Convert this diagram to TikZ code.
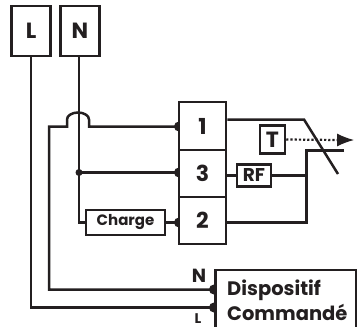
\documentclass[tikz,border=0pt]{standalone}
\usepackage{fontspec}
\setmainfont{Poppins}
\usetikzlibrary{arrows.meta}
\definecolor{ink}{HTML}{231F20}
\tikzset{
  wire/.style={draw=ink,line width=2.5pt},
  boxa/.style={draw=ink,line width=2.5pt,fill=white,inner sep=0pt,font=\bfseries\fontsize{22}{22}\selectfont,text=ink},
  lbl/.style={inner sep=0pt,text=ink,font=\bfseries\fontsize{19}{19}\selectfont},
  dotp/.style={circle,fill=ink,inner sep=0pt,minimum size=10pt}
}
\begin{document}
\begin{tikzpicture}[x=1pt,y=-1pt]
\useasboundingbox (0,0) rectangle (357,327);
\clip (0,0) rectangle (357,327);
\coordinate (d1) at (179,126.5);
\coordinate (d3) at (179,172.5);
\coordinate (d2) at (179,222.5);
\coordinate (dn) at (214,289.5);
\coordinate (dl) at (214,307.5);
\coordinate (jn) at (79,172.5);
\coordinate (sw) at (306.5,150.5);
\coordinate (swe) at (344,150.5);
\coordinate (rfj) at (306.5,175.5);
\coordinate (c1) at (304,119.5);
\coordinate (c2) at (338,174);
\coordinate (tipS) at (285,140);
\coordinate (tipE) at (354,140);
\node[dotp] at (d1) {};
\node[dotp] at (d3) {};
\node[dotp] at (d2) {};
\node[dotp] at (dn) {};
\node[dotp] at (dl) {};
\node[dotp,minimum size=7pt] at (jn) {};
% nodes
\node[boxa,minimum width=39pt,minimum height=50pt] (L) at (31,31) {L};
\node[boxa,minimum width=39pt,minimum height=50pt] (N) at (80,31) {N};
\node[boxa,minimum width=47pt,minimum height=48pt] (b1) at (202.5,126) {1};
\node[boxa,minimum width=47pt,minimum height=47pt] (b3) at (202.5,173.5) {3};
\node[boxa,minimum width=47pt,minimum height=47pt] (b2) at (202.5,220.5) {2};
\node[boxa,minimum width=25pt,minimum height=28pt] (T) at (272.5,139.5) {T};
\node[boxa,minimum width=34pt,minimum height=22pt,font=\bfseries\fontsize{18.5}{18.5}\selectfont] (RF) at (254,175.5) {RF};
\node[boxa,minimum width=79pt,minimum height=25pt,font=\bfseries\fontsize{15}{15}\selectfont] (Ch) at (125.5,222.5) {Charge};
\node[draw=ink,line width=2.5pt,fill=white,minimum width=141pt,minimum height=70pt,anchor=north west] (D) at (214,268.5) {};
\node[lbl,anchor=base west,font=\bfseries\fontsize{19.5}{19.5}\selectfont] (t1) at (227,295) {Dispositif};
\node[lbl,anchor=base west,font=\bfseries\fontsize{19.5}{19.5}\selectfont] (t2) at (227,320) {Commandé};
\node[lbl,anchor=center] (lN) at (199,276) {N};
\node[lbl,anchor=center,font=\bfseries\fontsize{14}{14}\selectfont] (lL) at (198,318.5) {L};
% wires
\draw[wire] (L.south) -- (31,307.5) -- (dl);
\draw[wire] (N.south -| jn) -- (jn) -- (79,222.5) -- (Ch.west);
\draw[wire] (jn) -- (d3);
\draw[wire] (d1) -- (89,126.5) -- (89,119.5) arc[start angle=0,end angle=180,x radius=11pt,y radius=7pt] -- (67,126.5) -- (49,126.5) -- (49,289.5) -- (dn);
\draw[wire] (Ch.east) -- (d2);
\draw[wire] (b1.east |- c1) -- (c1) -- (c2);
\draw[wire] (b3.east |- RF) -- (RF.west);
\draw[wire] (RF.east) -- (rfj);
\draw[wire] (swe) -- (sw) -- (306.5,222.5) -- (b2.east |- 0,222.5);
\draw[draw=ink,line width=2.2pt,dotted] (T.east) -- (338,140);
\draw[-{Latex[length=17pt,width=13pt]},draw=ink,fill=ink,line width=1.2pt,shorten <=52pt] (tipS) -- (tipE);
\end{tikzpicture}
\end{document}
